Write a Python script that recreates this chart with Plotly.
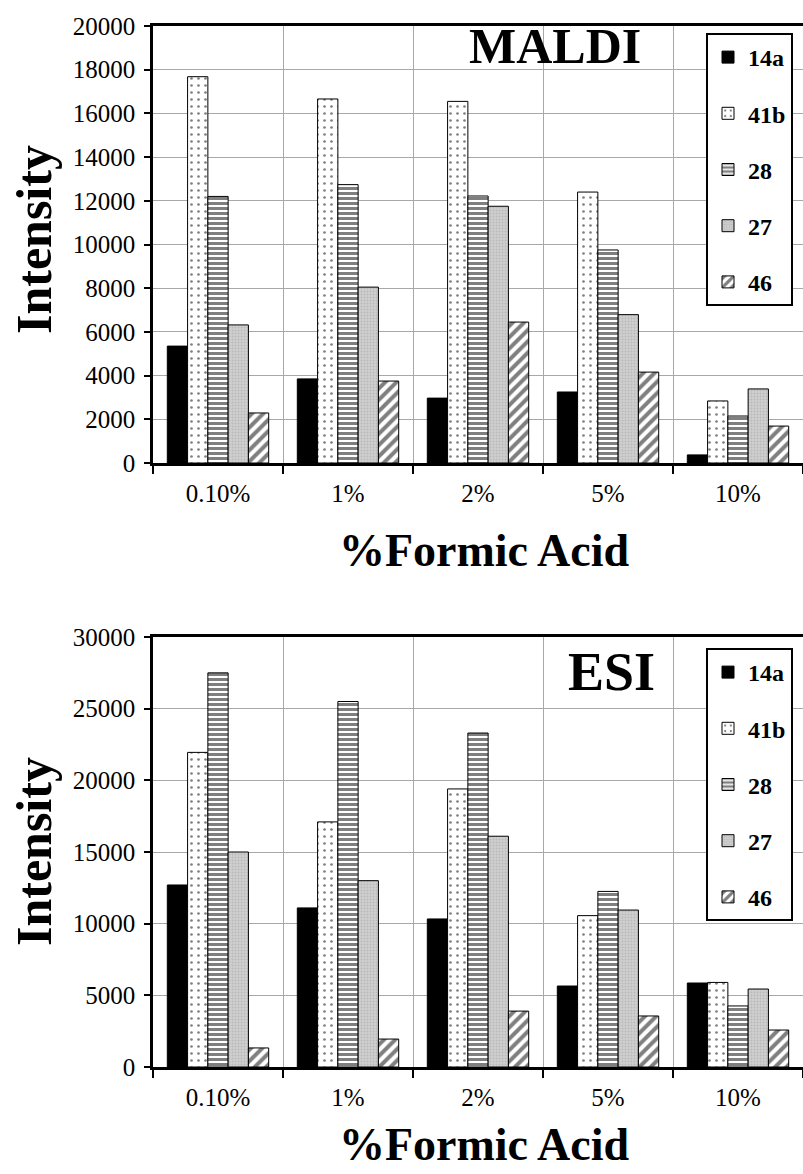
import plotly.graph_objects as go

categories = ["0.10%", "1%", "2%", "5%", "10%"]
series_names = ["14a", "41b", "28", "27", "46"]

maldi_14a = [5350, 3850, 2970, 3250, 370]
maldi_41b = [17680, 16660, 16550, 12400, 2840]
maldi_28 = [12200, 12740, 12220, 9750, 2150]
maldi_27 = [6320, 8050, 11750, 6790, 3390]
maldi_46 = [2290, 3750, 6450, 4160, 1690]

esi_14a = [12700, 11100, 10330, 5650, 5860]
esi_41b = [21950, 17100, 19400, 10560, 5900]
esi_28 = [27500, 25500, 23300, 12250, 4260]
esi_27 = [15000, 13000, 16100, 10950, 5440]
esi_46 = [1330, 1950, 3900, 3560, 2580]

maldi_ticks = list(range(0, 20001, 2000))
esi_ticks = list(range(0, 30001, 5000))

FONT = "Liberation Serif"

styles = [
    dict(color="black"),
    dict(color="white", pattern=dict(shape=".", fgcolor="black", bgcolor="white", size=7, solidity=0.12)),
    dict(color="white", pattern=dict(shape="-", fgcolor="black", bgcolor="white", size=5, solidity=0.6)),
    dict(color="#c4c4c4", pattern=dict(shape=".", fgcolor="#a4a4a4", bgcolor="#cfcfcf", size=3, solidity=0.35)),
    dict(color="white", pattern=dict(shape="/", fgcolor="black", bgcolor="white", size=8, solidity=0.5)),
]

fig = go.Figure()
maldi = [maldi_14a, maldi_41b, maldi_28, maldi_27, maldi_46]
esi = [esi_14a, esi_41b, esi_28, esi_27, esi_46]

for name, vals, st in zip(series_names, maldi, styles):
    fig.add_trace(go.Bar(x=categories, y=vals, name=name, xaxis="x", yaxis="y",
                         marker=dict(line=dict(color="black", width=1), **st),
                         legend="legend", legendgroup="m" + name))
for name, vals, st in zip(series_names, esi, styles):
    fig.add_trace(go.Bar(x=categories, y=vals, name=name, xaxis="x2", yaxis="y2",
                         marker=dict(line=dict(color="black", width=1), **st),
                         legend="legend2", legendgroup="e" + name))

H = 1174.0
def py(p):
    return 1 - p / H

tickfont = dict(family=FONT, size=25, color="black")
xax = dict(domain=[153 / 803, 1.0], tickson="boundaries", ticks="outside", ticklen=8,
           tickwidth=2, tickcolor="black", showline=True, linecolor="black", linewidth=3,
           mirror=True, showgrid=True, gridcolor="#a8a8a8", gridwidth=1,
           ticklabelstandoff=6, tickfont=tickfont)
yax_common = dict(ticks="outside", ticklen=6, tickwidth=1.5, tickcolor="black", showline=True,
                  linecolor="black", linewidth=2.5, showgrid=True, gridcolor="#a8a8a8",
                  gridwidth=1, zeroline=False, tickformat="d", ticklabelstandoff=4,
                  tickfont=tickfont)

legend_common = dict(bordercolor="black", borderwidth=2, bgcolor="white",
                     font=dict(family=FONT, size=24, color="black", weight="bold"),
                     tracegroupgap=22, xanchor="left", yanchor="top", itemwidth=30)

fig.update_layout(
    width=803, height=1174,
    margin=dict(l=0, r=0, t=0, b=0, autoexpand=False),
    font=dict(family=FONT, color="black"),
    paper_bgcolor="white", plot_bgcolor="white",
    barmode="group", bargap=0.22, bargroupgap=0,
    xaxis=dict(anchor="y", **xax),
    yaxis=dict(domain=[py(463), py(26)], range=[0, 20000], tickvals=maldi_ticks, anchor="x", **yax_common),
    xaxis2=dict(anchor="y2", **xax),
    yaxis2=dict(domain=[py(1067), py(637)], range=[0, 30000], tickvals=esi_ticks, anchor="x2", **yax_common),
    legend=dict(x=706 / 803, y=py(33), **legend_common),
    legend2=dict(x=706 / 803, y=py(648), **legend_common),
    showlegend=True,
)

annots = [
    dict(text="MALDI", x=555 / 803, y=py(46), font=dict(family=FONT, size=50, color="black", weight="bold")),
    dict(text="ESI", x=611 / 803, y=py(672), font=dict(family=FONT, size=54, color="black", weight="bold")),
    dict(text="Intensity", x=34 / 803, y=py(240), textangle=-90,
         font=dict(family=FONT, size=50, color="black", weight="bold")),
    dict(text="Intensity", x=34 / 803, y=py(852), textangle=-90,
         font=dict(family=FONT, size=50, color="black", weight="bold")),
    dict(text="%Formic Acid", x=484 / 803, y=py(550), font=dict(family=FONT, size=46, color="black", weight="bold")),
    dict(text="%Formic Acid", x=484 / 803, y=py(1144), font=dict(family=FONT, size=46, color="black", weight="bold")),
]
for a in annots:
    fig.add_annotation(xref="paper", yref="paper", showarrow=False,
                       xanchor="center", yanchor="middle", **a)

fig.write_html("out.html")
